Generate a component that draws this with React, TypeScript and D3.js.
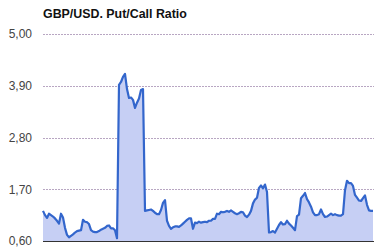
import React from "react";
import * as d3 from "d3";

const TITLE = "GBP/USD. Put/Call Ratio";

// Put/call ratio readings, evenly spaced in time
const ratioValues: number[] = [
  1.24, 1.15, 1.09, 1.18, 1.15, 1.12, 1.08, 1.03, 0.97, 1.18,
  1.10, 0.88, 0.73, 0.68, 0.71, 0.74, 0.78, 0.81, 0.82, 0.83,
  1.05, 1.01, 1.00, 0.96, 0.83, 0.80, 0.79, 0.79, 0.81, 0.84,
  0.86, 0.88, 0.92, 0.93, 0.87, 0.87, 0.83, 0.66, 3.92, 3.98,
  4.09, 4.15, 3.83, 3.64, 3.65, 3.60, 3.43, 3.54, 3.63, 3.81,
  3.83, 1.24, 1.25, 1.26, 1.27, 1.24, 1.20, 1.17, 1.17, 1.26,
  1.41, 1.47, 1.03, 0.92, 0.86, 0.89, 0.91, 0.91, 0.90, 0.93,
  0.97, 1.01, 1.05, 1.08, 1.08, 0.86, 0.99, 0.98, 1.01, 0.99,
  1.00, 1.01, 1.00, 1.03, 1.03, 1.07, 1.07, 1.18, 1.17, 1.22,
  1.21, 1.22, 1.24, 1.22, 1.25, 1.22, 1.19, 1.17, 1.19, 1.22,
  1.21, 1.14, 1.11, 1.16, 1.24, 1.40, 1.48, 1.52, 1.73, 1.78,
  1.72, 1.80, 1.64, 0.78, 0.79, 0.81, 0.78, 0.86, 0.94, 1.00,
  0.95, 0.96, 1.03, 0.97, 0.93, 0.88, 0.83, 1.13, 1.16, 1.51,
  1.56, 1.62, 1.49, 1.42, 1.33, 1.21, 1.15, 1.15, 1.17, 1.27,
  1.17, 1.11, 1.12, 1.15, 1.18, 1.15, 1.17, 1.15, 1.14, 1.14,
  1.17, 1.68, 1.88, 1.83, 1.83, 1.77, 1.58, 1.52, 1.46, 1.45,
  1.51, 1.57, 1.37, 1.25, 1.24, 1.24,
];

const yTicks: number[] = [0.6, 1.7, 2.8, 3.9, 5.0];
const yTickLabels: string[] = ["0,60", "1,70", "2,80", "3,90", "5,00"];

const WIDTH = 380;
const HEIGHT = 251;
const LEFT = 43;
const RIGHT = 374;
const TOP = 34;
const BOTTOM = 241;
const FONT = "'Liberation Sans', Arial, sans-serif";

export default function App() {
  const x = d3
    .scaleLinear()
    .domain([0, ratioValues.length - 1])
    .range([LEFT, RIGHT - 1]);
  const y = d3.scaleLinear().domain([0.6, 5.0]).range([BOTTOM, TOP]);

  const area = d3
    .area<number>()
    .x((_, i) => x(i))
    .y0(BOTTOM)
    .y1((d) => y(d));
  const line = d3
    .line<number>()
    .x((_, i) => x(i))
    .y((d) => y(d));

  return (
    <svg
      width={WIDTH}
      height={HEIGHT}
      style={{ position: "absolute", left: 0, top: 0, background: "#fff" }}
    >
      <text
        x={LEFT}
        y={18}
        fontFamily={FONT}
        fontSize={12.4}
        fontWeight="bold"
        fill="#111"
      >
        {TITLE}
      </text>

      {yTicks.map((t, i) => (
        <g key={t}>
          {i > 0 && (
            <line
              x1={LEFT}
              x2={RIGHT}
              y1={Math.round(y(t)) + 0.5}
              y2={Math.round(y(t)) + 0.5}
              stroke="#b8a6c2"
              strokeDasharray="2,1"
            />
          )}
          <text
            x={32}
            y={y(t)}
            dy="0.36em"
            textAnchor="end"
            fontFamily={FONT}
            fontSize={12}
            fill="#444"
          >
            {yTickLabels[i]}
          </text>
        </g>
      ))}

      <path d={area(ratioValues) ?? ""} fill="#c6cff4" />
      <path
        d={line(ratioValues) ?? ""}
        fill="none"
        stroke="#3366cc"
        strokeWidth={2.2}
        strokeLinejoin="round"
      />

      <line
        x1={LEFT}
        x2={RIGHT}
        y1={BOTTOM + 0.5}
        y2={BOTTOM + 0.5}
        stroke="#333"
        strokeWidth={1}
      />
    </svg>
  );
}
